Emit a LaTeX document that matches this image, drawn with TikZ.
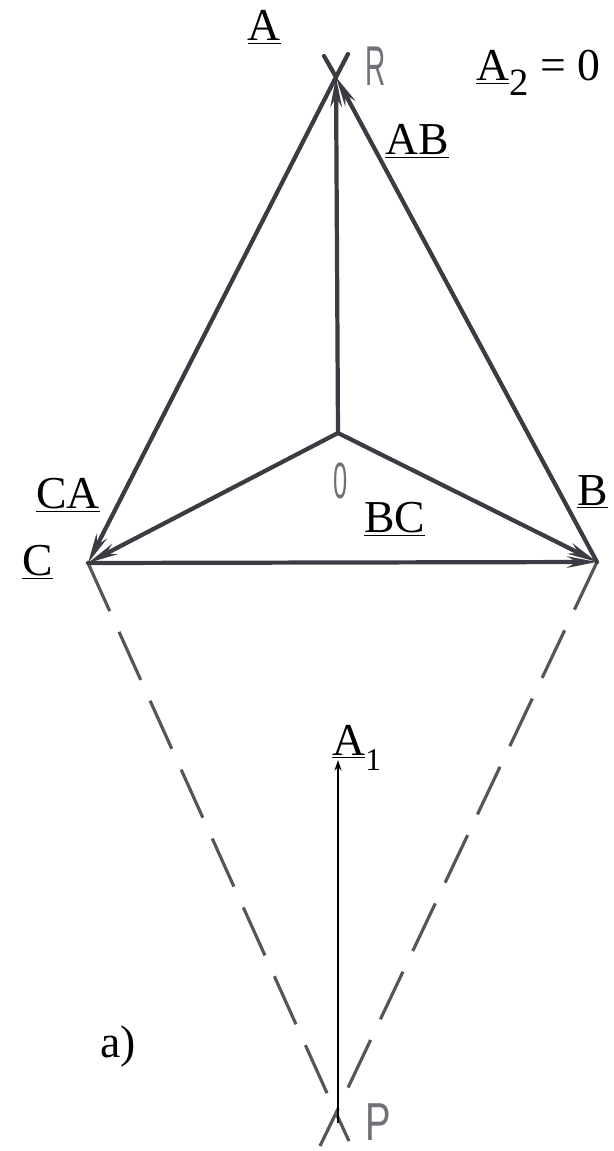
\documentclass[tikz,border=0pt]{standalone}
\usepackage{fontspec}
\setmainfont{Liberation Serif}
\newfontfamily\handfont{Liberation Sans}
\usetikzlibrary{arrows.meta}
\definecolor{ink}{HTML}{3C3A42}
\definecolor{hand}{HTML}{707076}
\definecolor{dashgray}{HTML}{55555C}
\tikzset{
  vec/.style={draw=ink, line width=2.4pt, line cap=round, -{Stealth[length=17pt,width=6.5pt]}},
  ext/.style={draw=ink, line width=2.4pt, line cap=round},
  dashln/.style={draw=dashgray, line width=1.8pt, dash pattern=on 30pt off 13pt},
  thin/.style={draw=black, line width=0.8pt, -{Stealth[length=6pt,width=4pt]}},
  lbl/.style={inner sep=0pt, font=\fontsize{26}{29}\selectfont},
  hw/.style={inner sep=0pt, text=hand, font=\handfont\fontsize{29}{32}\selectfont},
}
\newcommand{\lowsub}[3]{\raisebox{-#2}{\fontsize{#1}{#1}\selectfont #3}}
\begin{document}
\begin{tikzpicture}[x=0.02cm, y=-0.02cm]
\useasboundingbox (0,0) rectangle (614,1151);
% points
\coordinate (A) at (336,77);
\coordinate (O) at (338,433);
\coordinate (C) at (88,563);
\coordinate (B) at (597,562);
\coordinate (P) at (336,1113);
\coordinate (Aext1) at (348,54);
\coordinate (Aext2) at (324,56);
\coordinate (Pext1) at (349,1141);
\coordinate (Pext2) at (320,1146);
\coordinate (P1) at (338,1123);
\coordinate (A1) at (338,760);
% dashed
\draw[dashln] (C) -- (P) -- (Pext1);
\draw[dashln] (B) -- (P) -- (Pext2);
% star vectors
\draw[vec] (O) -- (A);
\draw[vec] (O) -- (C);
\draw[vec] (O) -- (B);
% triangle
\draw[vec] (A) -- (C);
\draw[vec] (C) -- (B);
\draw[vec] (B) -- (A);
\draw[ext] (A) -- (Aext1);
\draw[ext] (A) -- (Aext2);
% A1 arrow
\draw[thin] (P1) -- (A1);
% labels
\node[lbl, anchor=base] (lA) at (264,41) {\underline{A}};
\node[lbl, anchor=base west] (lA2) at (476,81) {\underline{A}\lowsub{22pt}{8pt}{2} = 0};
\node[lbl, anchor=base west] (lAB) at (385,155) {\underline{AB}};
\node[lbl, anchor=base west] (lCA) at (36,508) {\underline{CA}};
\node[lbl, anchor=base west] (lB) at (577,505) {\underline{B}};
\node[lbl, anchor=base west] (lBC) at (364,532) {\underline{BC}};
\node[lbl, anchor=base west] (lC) at (22,575) {\underline{C}};
\node[lbl, anchor=base west] (lA1) at (332,755) {\underline{A}\lowsub{18pt}{9pt}{1}};
\node[lbl, anchor=base west] (la) at (100,1057) {a)};
% handwritten
\node[hw] (hR) at (376,66) {\scalebox{0.55}[1.1]{R}};
\node[hw] (hO) at (341,481) {\scalebox{0.5}[1]{0}};
\node[hw] (hP) at (378,1122) {\scalebox{0.75}[1.05]{P}};
\end{tikzpicture}
\end{document}
